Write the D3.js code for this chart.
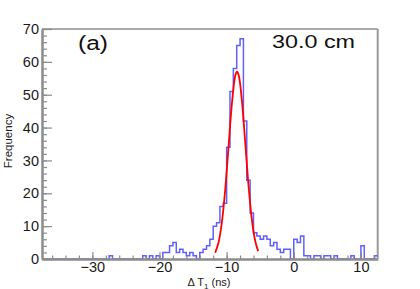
<!DOCTYPE html>
<html>
<head>
<meta charset="utf-8">
<script src="https://cdn.jsdelivr.net/npm/d3@7"></script>
<style>
  body { margin: 0; background: #fff; }
  svg { display: block; font-family: "Liberation Sans", Arial, sans-serif; }
</style>
</head>
<body>
<svg id="chart" width="420" height="289"></svg>
<script>
// histogram binning (ns)
var binStart = -37.5,
    binWidth = 0.5;

// counts per bin, 100 bins from -37.5 to 12.5 ns
var counts = [
    0, 0, 0, 0, 0, 0, 0, 0, 0, 0,
    0, 0, 0, 0, 0, 0, 0, 0, 0, 0,
    1, 0, 0, 0, 0, 0, 0, 0, 0, 0,
    1, 0, 1, 0, 1, 0, 2, 2, 4, 5,
    2, 3, 2, 1, 2, 1, 0, 2, 3, 4,
    6, 10, 11, 16, 17, 34, 51, 58, 65, 67,
    42, 24, 14, 8, 7, 6, 7, 6, 4, 5,
    3, 2, 3, 3, 0, 6, 5, 7, 1, 1,
    0, 1, 1, 0, 1, 1, 0, 1, 0, 0,
    0, 0, 1, 0, 0, 4, 0, 0, 0, 1
];

// gaussian fit
var fitX = [-11.7, -11.2, -10.7, -10.2, -9.7, -9.2, -8.7, -8.45, -8.2, -7.7, -7.2, -6.7, -6.2, -5.7, -5.3];
var fitY = [1.9, 5.1, 11.3, 21.4, 34.6, 47.6, 55.9, 57, 55.9, 47.6, 34.6, 21.4, 11.3, 5.1, 2.4];

var xTicks = [-30, -20, -10, 0, 10],
    yTicks = [0, 10, 20, 30, 40, 50, 60, 70];

var xTitle = '\u0394 T',
    xTitleSub = '1',
    xTitleUnit = ' (ns)',
    yTitle = 'Frequency',
    panelLabel = '(a)',
    distLabel = '30.0 cm';

(function() {
    var padLeft = 42, padRight = 377.7, padTop = 29, padBottom = 259;
    var axisColor = '#8c8c8c';

    var svg = d3.select('#chart');

    var nBins = counts.length;
    var x = d3.scaleLinear().domain([binStart, binStart + nBins * binWidth]).range([padLeft, padRight]);
    var y = d3.scaleLinear().domain([0, 70]).range([padBottom, padTop]);

    // frame
    svg.append('line')
        .attr('x1', padLeft).attr('x2', padRight)
        .attr('y1', padTop).attr('y2', padTop)
        .attr('stroke', '#555').attr('stroke-width', 1);
    svg.append('line')
        .attr('x1', padRight).attr('x2', padRight)
        .attr('y1', padTop).attr('y2', padBottom)
        .attr('stroke', '#999').attr('stroke-width', 2);

    // histogram outline
    var steps = counts.map(function(c, i) { return [binStart + i * binWidth, c]; });
    steps.push([binStart + nBins * binWidth, counts[nBins - 1]]);

    svg.append('path')
        .datum(steps)
        .attr('fill', 'none')
        .attr('stroke', '#6060ff')
        .attr('stroke-width', 1.5)
        .attr('d', d3.line()
            .x(function(d) { return x(d[0]); })
            .y(function(d) { return y(d[1]); })
            .curve(d3.curveStepAfter));

    // fit curve
    svg.append('path')
        .datum(d3.zip(fitX, fitY))
        .attr('fill', 'none')
        .attr('stroke', '#ff0000')
        .attr('stroke-width', 1.8)
        .attr('d', d3.line()
            .x(function(d) { return x(d[0]); })
            .y(function(d) { return y(d[1]); })
            .curve(d3.curveCatmullRom));

    // axes
    function styleAxis(g) {
        g.select('.domain').attr('stroke', axisColor).attr('stroke-width', 2);
        g.selectAll('.tick line').attr('stroke', axisColor).attr('stroke-width', 1.2);
        g.selectAll('.tick text')
            .attr('fill', '#1a1a1a')
            .style('font-size', '14.5px')
            .style('font-family', '"Liberation Sans", Arial, sans-serif');
    }

    svg.append('g')
        .attr('transform', 'translate(0,' + padBottom + ')')
        .call(d3.axisBottom(x).tickValues(d3.range(-36, 13, 2)).tickSize(-3.5).tickFormat('').tickSizeOuter(0))
        .call(styleAxis);
    svg.append('g')
        .attr('transform', 'translate(0,' + padBottom + ')')
        .call(d3.axisBottom(x).tickValues(xTicks).tickSize(-7).tickPadding(3).tickSizeOuter(0))
        .call(styleAxis);

    svg.append('g')
        .attr('transform', 'translate(' + padLeft + ',0)')
        .call(d3.axisLeft(y).tickValues(d3.range(0, 71, 2)).tickSize(-5).tickFormat('').tickSizeOuter(0))
        .call(styleAxis);
    svg.append('g')
        .attr('transform', 'translate(' + padLeft + ',0)')
        .call(d3.axisLeft(y).tickValues(yTicks).tickSize(-10).tickPadding(3).tickSizeOuter(0))
        .call(styleAxis);

    // titles
    var xt = svg.append('text')
        .attr('x', 209).attr('y', 286)
        .attr('text-anchor', 'middle')
        .style('font-size', '11px')
        .attr('fill', '#1a1a1a');
    xt.append('tspan').text(xTitle);
    xt.append('tspan').attr('dy', 2.5).style('font-size', '8px').text(xTitleSub);
    xt.append('tspan').attr('dy', -2.5).text(xTitleUnit);

    svg.append('text')
        .attr('transform', 'translate(12,141) rotate(-90)')
        .attr('text-anchor', 'middle')
        .style('font-size', '11.5px')
        .attr('fill', '#1a1a1a')
        .text(yTitle);

    svg.append('text')
        .attr('x', 78).attr('y', 50)
        .style('font-size', '20px')
        .attr('textLength', 30)
        .attr('lengthAdjust', 'spacingAndGlyphs')
        .attr('fill', '#111')
        .text(panelLabel);

    svg.append('text')
        .attr('x', 272).attr('y', 48)
        .style('font-size', '18px')
        .attr('textLength', 83)
        .attr('lengthAdjust', 'spacingAndGlyphs')
        .attr('fill', '#111')
        .text(distLabel);
})();
</script>
</body>
</html>
